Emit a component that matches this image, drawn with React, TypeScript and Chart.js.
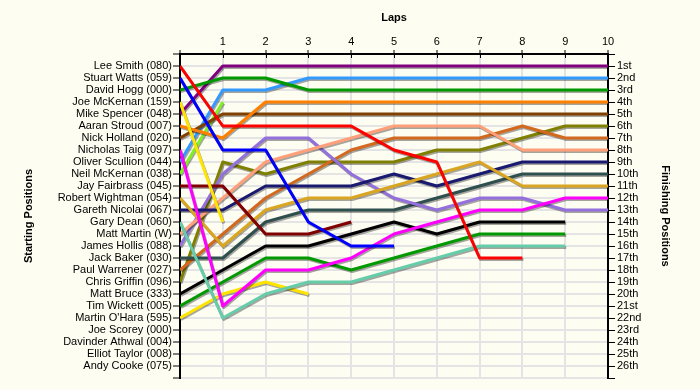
import React, { useEffect, useRef } from "react";
import { Chart, registerables } from "chart.js";

Chart.register(...registerables);

// Starting grid (left axis labels, position 1..26)
const drivers = [
  "Lee Smith (080)", "Stuart Watts (059)", "David Hogg (000)", "Joe McKernan (159)",
  "Mike Spencer (048)", "Aaran Stroud (007)", "Nick Holland (020)", "Nicholas Taig (097)",
  "Oliver Scullion (044)", "Neil McKernan (038)", "Jay Fairbrass (045)", "Robert Wightman (054)",
  "Gareth Nicolai (067)", "Gary Dean (060)", "Matt Martin (W)", "James Hollis (088)",
  "Jack Baker (030)", "Paul Warrener (027)", "Chris Griffin (096)", "Matt Bruce (333)",
  "Tim Wickett (005)", "Martin O'Hara (595)", "Joe Scorey (000)", "Davinder Athwal (004)",
  "Elliot Taylor (008)", "Andy Cooke (075)",
];

// Finishing positions (right axis labels)
const finishLabels = [
  "1st", "2nd", "3rd", "4th", "5th", "6th", "7th", "8th", "9th", "10th", "11th", "12th", "13th",
  "14th", "15th", "16th", "17th", "18th", "19th", "20th", "21st", "22nd", "23rd", "24th", "25th", "26th",
];

// Lap labels along the top
const lapLabels = ["", "1", "2", "3", "4", "5", "6", "7", "8", "9", "10"];

// Position at each lap (index = lap number, 0 = start)
const leeSmith = [1, 6, 6, 6, 6, 8, 9, 17, 17];
const stuartWatts = [2, 8, 8, 14, 16, 16];
const davidHogg = [3, 2, 2, 3, 3, 3, 3, 3, 3, 3, 3];
const joeMcKernan = [4, 14];
const mikeSpencer = [5, 1, 1, 1, 1, 1, 1, 1, 1, 1, 1];
const aaranStroud = [6, 7, 4, 4, 4, 4, 4, 4, 4, 4, 4];
const nickHolland = [7, 5, 5, 5, 5, 5, 5, 5, 5, 5, 5];
const nicholasTaig = [8, 21, 18, 18, 17, 15, 14, 13, 13, 12, 12];
const oliverScullion = [9, 3, 3, 2, 2, 2, 2, 2, 2, 2, 2];
const neilMcKernan = [10, 4];
const jayFairbrass = [11, 11, 15, 15, 14];
const robertWightman = [12, 16, 13, 12, 12, 11, 10, 9, 11, 11, 11];
const garethNicolai = [13, 13, 11, 11, 11, 10, 11, 10, 9, 9, 9];
const garyDean = [14, 22, 20, 19, 19, 18, 17, 16, 16, 16];
const mattMartin = [15, 12, 9, 8, 7, 6, 6, 6, 8, 8, 8];
const jamesHollis = [16, 10, 7, 7, 10, 12, 13, 12, 12, 13, 13];
const jackBaker = [17, 17, 14, 13, 13, 13, 12, 11, 10, 10, 10];
const paulWarrener = [18, 15, 12, 10, 8, 7, 7, 7, 6, 7, 7];
const chrisGriffin = [19, 9, 10, 9, 9, 9, 8, 8, 7, 6, 6];
const mattBruce = [20, 18, 16, 16, 15, 14, 15, 14, 14, 14];
const timWickett = [21, 19, 17, 17, 18, 17, 16, 15, 15, 15];
const martinOHara = [22, 20, 19, 20];

const series: [string, number[], string][] = [
  [drivers[0], leeSmith, "#FF0000"],
  [drivers[1], stuartWatts, "#0000FF"],
  [drivers[2], davidHogg, "#009A00"],
  [drivers[3], joeMcKernan, "#FFE400"],
  [drivers[4], mikeSpencer, "#800080"],
  [drivers[5], aaranStroud, "#FF8000"],
  [drivers[6], nickHolland, "#804000"],
  [drivers[7], nicholasTaig, "#FF00FF"],
  [drivers[8], oliverScullion, "#3399FF"],
  [drivers[9], neilMcKernan, "#80F020"],
  [drivers[10], jayFairbrass, "#800000"],
  [drivers[11], robertWightman, "#DAA520"],
  [drivers[12], garethNicolai, "#191970"],
  [drivers[13], garyDean, "#66CDAA"],
  [drivers[14], mattMartin, "#FFA07A"],
  [drivers[15], jamesHollis, "#9370DB"],
  [drivers[16], jackBaker, "#2F4F4F"],
  [drivers[17], paulWarrener, "#D2691E"],
  [drivers[18], chrisGriffin, "#808000"],
  [drivers[19], mattBruce, "#000000"],
  [drivers[20], timWickett, "#009A00"],
  [drivers[21], martinOHara, "#FFE400"],
];

const BG = "#FDFDF1";
const FONT = "'Liberation Sans', Arial, sans-serif";

const bgPlugin = {
  id: "bg",
  beforeDraw(chart: any) {
    const { ctx } = chart;
    ctx.save();
    ctx.fillStyle = BG;
    ctx.fillRect(0, 0, chart.width, chart.height);
    ctx.restore();
  },
};

const shadowPlugin = {
  id: "lineShadow",
  beforeDatasetsDraw(chart: any) {
    const { ctx } = chart;
    ctx.save();
    ctx.shadowColor = "rgba(0,0,0,0.35)";
    ctx.shadowOffsetX = 1;
    ctx.shadowOffsetY = 1.5;
    ctx.shadowBlur = 0;
  },
  afterDatasetsDraw(chart: any) {
    chart.ctx.restore();
  },
};

const innerTicksPlugin = {
  id: "innerTicks",
  afterDraw(chart: any) {
    const { ctx, chartArea } = chart;
    const xs = chart.scales.x;
    ctx.save();
    ctx.strokeStyle = "#000";
    ctx.lineWidth = 1;
    for (let i = 0; i < lapLabels.length; i++) {
      const px = Math.round(xs.getPixelForValue(i)) + 0.5;
      ctx.beginPath();
      ctx.moveTo(px, chartArea.top);
      ctx.lineTo(px, chartArea.top + 4);
      ctx.stroke();
    }
    ctx.restore();
  },
};

export default function App() {
  const ref = useRef<HTMLCanvasElement | null>(null);

  useEffect(() => {
    document.body.style.margin = "0";
    const canvas = ref.current;
    if (!canvas) return;

    const datasets = series.map(([label, pos, color]) => ({
      label,
      data: pos.map((p, lap) => ({ x: lap, y: p })),
      borderColor: color,
      backgroundColor: color,
      borderWidth: 3,
      pointRadius: 0,
      tension: 0,
      fill: false,
      yAxisID: "y",
      xAxisID: "x",
      borderJoinStyle: "round" as const,
    }));

    const tickFont = { family: FONT, size: 11 };
    const titleFont = { family: FONT, size: 11, weight: "bold" as const };

    const chart = new Chart(canvas, {
      type: "line",
      data: { datasets },
      options: {
        responsive: false,
        animation: false,
        events: [],
        layout: { padding: { top: 0, left: 0, right: 0, bottom: 12 } },
        plugins: { legend: { display: false }, tooltip: { enabled: false } },
        scales: {
          x: {
            type: "linear",
            position: "top",
            min: 0,
            max: 10,
            afterFit: (s: any) => { s.height = 54; },
            ticks: {
              stepSize: 1,
              autoSkip: false,
              maxRotation: 0,
              padding: 1,
              color: "#000",
              font: tickFont,
              callback: (v: any) => lapLabels[Number(v)] ?? "",
            },
            grid: { color: "#E4E4E4", lineWidth: 2, tickColor: "#000", tickLength: 4, tickWidth: 1 },
            border: { color: "#000", width: 2 },
            title: { display: true, text: "Laps", color: "#000", font: titleFont, padding: { top: 11, bottom: 0 } },
          },
          y: {
            type: "linear",
            position: "left",
            reverse: true,
            min: 0,
            max: 27,
            afterFit: (s: any) => { s.width = 180; },
            ticks: {
              stepSize: 1,
              autoSkip: false,
              padding: 1,
              color: "#000",
              font: tickFont,
              callback: (v: any) => drivers[Number(v) - 1] ?? "",
            },
            grid: { color: "#E4E4E4", lineWidth: 2, tickColor: "#000", tickLength: 7, tickWidth: 1 },
            border: { color: "#000", width: 2 },
            title: { display: true, text: "Starting Positions", color: "#000", font: titleFont, padding: { top: 22, bottom: 0 } },
          },
          y2: {
            type: "linear",
            position: "right",
            reverse: true,
            min: 0,
            max: 27,
            afterFit: (s: any) => { s.width = 92; },
            ticks: {
              stepSize: 1,
              autoSkip: false,
              padding: 2,
              color: "#000",
              font: tickFont,
              callback: (v: any) => finishLabels[Number(v) - 1] ?? "",
            },
            grid: { drawOnChartArea: false, tickColor: "#000", tickLength: 7, tickWidth: 1 },
            border: { color: "#000", width: 2 },
            title: { display: true, text: "Finishing Positions", color: "#000", font: titleFont, padding: { top: 28, bottom: 0 } },
          },
        },
      },
      plugins: [bgPlugin, shadowPlugin, innerTicksPlugin],
    } as any);

    return () => chart.destroy();
  }, []);

  return (
    <div style={{ position: "absolute", left: 0, top: 0, width: 700, height: 390 }}>
      <canvas ref={ref} width={700} height={390} style={{ display: "block", width: 700, height: 390 }} />
    </div>
  );
}
